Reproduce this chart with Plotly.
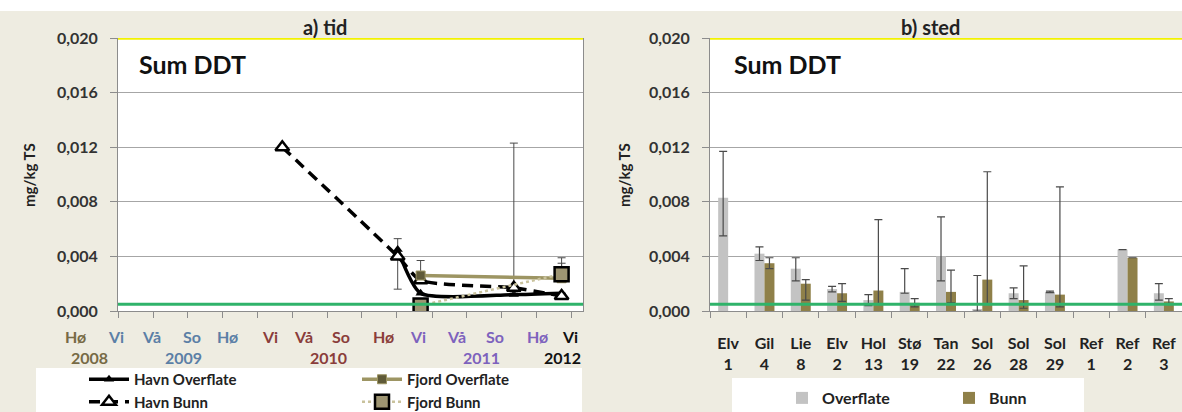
import plotly.graph_objects as go

W, H = 1182, 412

# ---------------- panel a) tid : data ----------------
havn_ovf_dates = ["2010-10-03", "2010-12-02", "2011-08-03", "2011-12-06"]
havn_ovf = [0.0045, 0.0013, 0.0012, 0.0013]
havn_ovf_err_plus = [0.0008, 0.0, 0.0, 0.0]
havn_ovf_err_minus = [0.0029, 0.0, 0.0, 0.0]

havn_bunn_dates = ["2009-12-05", "2010-10-03", "2010-12-02", "2011-08-03", "2011-12-06"]
havn_bunn = [0.0120, 0.0040, 0.00225, 0.0017, 0.0011]
havn_bunn_err_plus = [0.0, 0.0, 0.0, 0.0106, 0.0]
havn_bunn_err_minus = [0.0, 0.0, 0.0, 0.0003, 0.0]

fjord_ovf_dates = ["2010-12-02", "2011-12-06"]
fjord_ovf = [0.0026, 0.0024]
fjord_ovf_err = [0.0011, 0.0011]

fjord_bunn_dates = ["2010-12-02", "2011-12-06"]
fjord_bunn = [0.0004, 0.0027]
fjord_bunn_err = [0.0, 0.0012]

season_labels = ["Hø", "Vi", "Vå", "So", "Hø", "Vi", "Vå", "So", "Hø", "Vi", "Vå", "So", "Hø", "Vi"]
season_years = [2008, 2009, 2009, 2009, 2009, 2010, 2010, 2010, 2010, 2011, 2011, 2011, 2011, 2012]
year_labels = [2008, 2009, 2010, 2011, 2012]

# ---------------- panel b) sted : data ----------------
sites = ["Elv", "Gil", "Lie", "Elv", "Hol", "Stø", "Tan", "Sol", "Sol", "Sol", "Ref", "Ref", "Ref"]
site_nums = ["1", "4", "8", "2", "13", "19", "22", "26", "28", "29", "1", "2", "3"]
overflate = [0.0083, 0.0042, 0.0031, 0.0016, 0.0008, 0.0014, 0.0040, 0.0001, 0.0013, 0.0014, None, 0.0045, 0.0013]
overflate_err_plus = [0.0034, 0.0005, 0.0008, 0.0002, 0.0004, 0.0017, 0.0029, 0.0025, 0.0004, 0.00005, 0.0, 0.0, 0.0007]
overflate_err_minus = [0.0028, 0.0005, 0.0009, 0.0002, 0.0004, 0.0001, 0.0018, 0.0001, 0.0004, 0.00005, 0.0, 0.0, 0.0005]
bunn = [None, 0.0035, 0.0020, 0.0013, 0.0015, 0.0006, 0.0014, 0.0023, 0.0008, 0.0012, None, 0.0039, 0.0007]
bunn_err_plus = [0.0, 0.0004, 0.0003, 0.0007, 0.0052, 0.0003, 0.0016, 0.0079, 0.0025, 0.0079, 0.0, 0.0, 0.0002]
bunn_err_minus = [0.0, 0.0004, 0.0012, 0.0006, 0.0010, 0.0003, 0.0008, 0.0018, 0.0006, 0.0009, 0.0, 0.0, 0.0002]

limit_green = 0.0005
limit_yellow = 0.020

# ---------------- styling ----------------
FONT = "Lato"
BEIGE = "#EEECE1"
GRID = "#a6a6a6"
AXIS = "#8c8c8c"
ERR = "#4a4a4a"
TXT = "#222222"
year_colors = {2008: "#766a45", 2009: "#5b7fa6", 2010: "#8a3d3a", 2011: "#7d62bd", 2012: "#111111"}


def px_x(p):
    return p / W


def px_y(p):
    return 1 - p / H


def bfont(size, color=TXT):
    return dict(family=FONT, size=size, color=color, weight="bold")


fig = go.Figure()

# Panel a traces
fig.add_trace(go.Scatter(
    x=havn_ovf_dates, y=havn_ovf, name="Havn Overflate", mode="lines+markers",
    line=dict(color="black", width=3.5, shape="spline", smoothing=0.6),
    marker=dict(symbol="triangle-up", size=9, color="black"),
    error_y=dict(type="data", array=havn_ovf_err_plus, arrayminus=havn_ovf_err_minus,
                 color=ERR, thickness=1, width=4),
    xaxis="x", yaxis="y", legend="legend"))
fig.add_trace(go.Scatter(
    x=havn_bunn_dates, y=havn_bunn, name="Havn Bunn", mode="lines+markers",
    line=dict(color="black", width=3.5, dash="11px,7px", shape="spline", smoothing=0.6),
    marker=dict(symbol="triangle-up", size=12, color="white", line=dict(color="black", width=2.5)),
    error_y=dict(type="data", array=havn_bunn_err_plus, arrayminus=havn_bunn_err_minus,
                 color=ERR, thickness=1, width=4),
    xaxis="x", yaxis="y", legend="legend"))
fig.add_trace(go.Scatter(
    x=fjord_ovf_dates, y=fjord_ovf, name="Fjord Overflate", mode="lines+markers",
    line=dict(color="#9d9563", width=3.5),
    marker=dict(symbol="square", size=9, color="#5f5a38", line=dict(color="#9d9563", width=1)),
    error_y=dict(type="data", array=fjord_ovf_err, symmetric=False, arrayminus=[0, 0],
                 color=ERR, thickness=1, width=4),
    xaxis="x", yaxis="y", legend="legend3"))
fig.add_trace(go.Scatter(
    x=fjord_bunn_dates, y=fjord_bunn, name="Fjord Bunn", mode="lines+markers",
    line=dict(color="#c9c29c", width=2.5, dash="dot"),
    marker=dict(symbol="square", size=14, color="#9e9572", line=dict(color="black", width=2.5)),
    error_y=dict(type="data", array=fjord_bunn_err, symmetric=False, arrayminus=[0, 0],
                 color=ERR, thickness=1, width=4),
    xaxis="x", yaxis="y", legend="legend3"))

# Panel b traces
cats = [f"{s}<br>{n}" for s, n in zip(sites, site_nums)]
fig.add_trace(go.Bar(
    x=cats, y=overflate, name="Overflate", marker=dict(color="#c3c3c3", line=dict(width=0)),
    error_y=dict(type="data", array=overflate_err_plus, arrayminus=overflate_err_minus,
                 color=ERR, thickness=1.2, width=4),
    xaxis="x2", yaxis="y2", legend="legend2"))
fig.add_trace(go.Bar(
    x=cats, y=bunn, name="Bunn", marker=dict(color="#8f8049", line=dict(width=0)),
    error_y=dict(type="data", array=bunn_err_plus, arrayminus=bunn_err_minus,
                 color=ERR, thickness=1.2, width=4),
    xaxis="x2", yaxis="y2", legend="legend2"))

tickfont = bfont(16, "#333333")
ydom = [px_y(311), px_y(38)]

fig.update_layout(
    template="none",
    width=W, height=H,
    margin=dict(l=0, r=0, t=0, b=0, autoexpand=False),
    paper_bgcolor=BEIGE,
    plot_bgcolor="white",
    separators=", ",
    barmode="group", bargap=0.45, bargroupgap=0.0,
    font=dict(family=FONT, color=TXT),
    xaxis=dict(
        domain=[px_x(118), px_x(583)], type="date",
        range=["2008-10-01", "2012-01-31"],
        tick0="2008-10-01", dtick="M3", showticklabels=False,
        ticks="outside", ticklen=6, tickcolor=AXIS,
        showgrid=False, showline=True, linecolor=AXIS, linewidth=1,
        zeroline=False, automargin=False),
    yaxis=dict(
        domain=ydom, range=[0, 0.020], dtick=0.004, tickformat=".3f",
        ticks="outside", ticklen=7, tickcolor=AXIS, tickfont=tickfont, ticklabelstandoff=9,
        showgrid=True, gridcolor=GRID, gridwidth=1,
        showline=True, linecolor=AXIS, linewidth=1, mirror=True,
        zeroline=False, automargin=False),
    xaxis2=dict(
        domain=[px_x(710), 1.0], type="category", range=[-0.5, 12.5],
        tickson="boundaries", ticks="outside", ticklen=6, tickcolor=AXIS,
        tickfont=bfont(16), ticklabelstandoff=18,
        showgrid=False, showline=True, linecolor=AXIS, linewidth=1,
        zeroline=False, automargin=False, anchor="y2"),
    yaxis2=dict(
        domain=ydom, range=[0, 0.020], dtick=0.004, tickformat=".3f",
        ticks="outside", ticklen=7, tickcolor=AXIS, tickfont=tickfont, ticklabelstandoff=9,
        showgrid=True, gridcolor=GRID, gridwidth=1,
        showline=True, linecolor=AXIS, linewidth=1,
        zeroline=False, automargin=False, anchor="x2"),
    legend=dict(x=px_x(84), y=px_y(363), xanchor="left", yanchor="top",
                bgcolor="rgba(0,0,0,0)", tracegroupgap=0, itemwidth=40,
                font=bfont(15)),
    legend3=dict(x=px_x(357), y=px_y(363), xanchor="left", yanchor="top",
                 bgcolor="rgba(0,0,0,0)", tracegroupgap=0, itemwidth=40,
                 font=bfont(15)),
    legend2=dict(x=px_x(782), y=px_y(381), xanchor="left", yanchor="top", orientation="h",
                 bgcolor="rgba(0,0,0,0)", entrywidth=122,
                 font=bfont(16)),
    showlegend=True,
)

shapes = [
    # white strip at top
    dict(type="rect", xref="paper", yref="paper", x0=0, x1=1, y0=px_y(11), y1=1,
         fillcolor="white", line=dict(width=0), layer="below"),
    # legend boxes
    dict(type="rect", xref="paper", yref="paper", x0=px_x(36), x1=px_x(582), y0=0, y1=px_y(368),
         fillcolor="white", line=dict(width=0), layer="below"),
    dict(type="rect", xref="paper", yref="paper", x0=px_x(732), x1=px_x(1084), y0=0, y1=px_y(378),
         fillcolor="white", line=dict(width=0), layer="below"),
]
for xa, ya in [("x", "y"), ("x2", "y2")]:
    shapes.append(dict(type="line", xref=f"{xa} domain", yref=ya, x0=0, x1=1,
                       y0=limit_green, y1=limit_green, line=dict(color="#2fb36a", width=3), layer="above"))
    shapes.append(dict(type="line", xref=f"{xa} domain", yref=ya, x0=0, x1=1,
                       y0=limit_yellow, y1=limit_yellow, line=dict(color="#f2f200", width=3.5), layer="above"))
fig.update_layout(shapes=shapes)


def label(text, px, py, font, xanchor="center", angle=0):
    return dict(text=text, x=px_x(px), y=px_y(py), xref="paper", yref="paper", showarrow=False,
                xanchor=xanchor, yanchor="middle", textangle=angle, font=font)


ann = [
    label("a) tid", 325, 27, bfont(20)),
    label("b) sted", 930, 27, bfont(20)),
    label("Sum DDT", 137, 64, bfont(25, "#111111"), xanchor="left"),
    label("Sum DDT", 732, 64, bfont(25, "#111111"), xanchor="left"),
    label("mg/kg TS", 29, 175, bfont(15), angle=-90),
    label("mg/kg TS", 624, 175, bfont(15), angle=-90),
]

# season tick labels (placed as in the original text boxes)
season_px = [76, 116, 152, 192, 227, 270, 304, 341, 383, 418, 456, 495, 537, 570]
for lab, yr, p in zip(season_labels, season_years, season_px):
    ann.append(label(lab, p, 336, bfont(16, year_colors[yr])))
year_px = [89, 183, 328, 481, 562]
for yr, p in zip(year_labels, year_px):
    ann.append(label(str(yr), p, 357, bfont(16, year_colors[yr])))
fig.update_layout(annotations=ann)

fig.write_html(
    "out.html",
    config={"displayModeBar": False},
    post_script="document.body.style.margin='0';document.body.style.overflow='hidden';",
)
